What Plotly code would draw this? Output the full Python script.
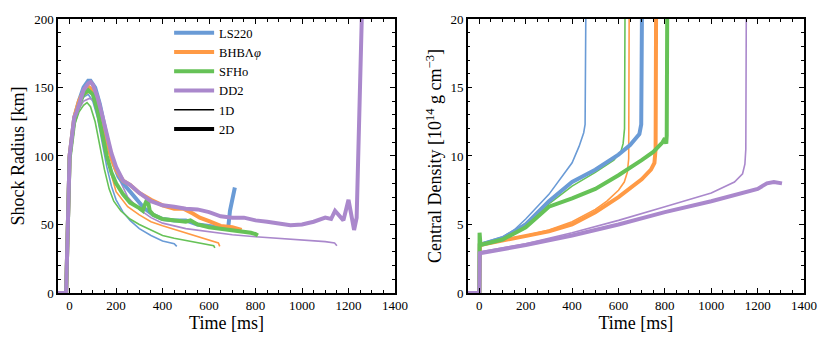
import plotly.graph_objects as go
from plotly.subplots import make_subplots

# colours per equation of state
BLUE = "#6a9bd6"
ORANGE = "#ff9a45"
GREEN = "#66c257"
PURPLE = "#aa88cc"

# ---- shock radius [km] vs time [ms] ----
ls220_1d_t = [-50, -15, 0, 10, 20, 40, 60, 80, 100, 120, 140, 160, 180, 200, 230, 260, 300, 350, 400, 430, 450, 461]
ls220_1d_r = [0, 0, 95, 112, 125, 137, 143, 145, 140, 128, 110, 92, 78, 68, 59, 53, 47, 42, 38, 36.5, 36, 34]

bhb_1d_t = [-50, -15, 0, 10, 20, 40, 60, 85, 100, 120, 140, 160, 180, 200, 250, 300, 350, 400, 450, 500, 550, 600, 640, 646]
bhb_1d_r = [0, 0, 96, 113, 126, 138, 144, 147, 144, 135, 120, 102, 86, 74, 63, 57, 52, 49, 46.5, 44, 41.5, 39, 36.5, 34]

sfho_1d_t = [-50, -15, 0, 10, 20, 40, 60, 75, 90, 110, 130, 150, 170, 190, 220, 260, 300, 350, 400, 450, 500, 550, 600, 620, 625]
sfho_1d_r = [0, 0, 95, 110, 122, 132, 137, 139, 136, 125, 108, 90, 76, 67, 60, 54, 50, 46, 42, 40, 38.5, 37, 35.5, 34.5, 33]

dd2_1d_t = [-50, -15, 0, 10, 20, 40, 60, 85, 100, 120, 140, 160, 180, 200, 250, 300, 350, 400, 500, 600, 700, 800, 900, 1000, 1100, 1140, 1150]
dd2_1d_r = [0, 0, 96, 112, 124, 134, 140, 142, 141, 135, 125, 112, 99, 88, 70, 61, 55, 51, 47, 44.5, 42.5, 41, 40, 39, 37.5, 36.5, 34.5]

ls220_2d_t = [-50, -15, 0, 20, 40, 60, 80, 90, 110, 130, 150, 170, 190, 210, 240, 280, 320, 360, 400, 450, 500, 550, 600, 650, 682, 690, 700, 711]
ls220_2d_r = [0, 0, 100, 128, 140, 150, 155, 155, 150, 138, 122, 106, 94, 85, 78, 70, 62, 57, 54, 53, 53, 50, 49, 48, 47, 60, 70, 77]

bhb_2d_t = [-50, -15, 0, 20, 40, 60, 85, 100, 120, 140, 160, 180, 200, 230, 260, 300, 350, 400, 450, 490, 530, 560, 600, 650, 700, 740]
bhb_2d_r = [0, 0, 100, 128, 140, 147, 150, 148, 140, 126, 110, 98, 90, 82, 79, 73, 68, 64, 61.5, 61.5, 58, 55, 52.5, 49, 48, 46]

sfho_2d_t = [-50, -15, 0, 20, 40, 60, 80, 100, 120, 140, 160, 180, 200, 230, 260, 300, 315, 325, 335, 345, 360, 400, 450, 500, 520, 550, 600, 650, 700, 750, 780, 800, 810]
sfho_2d_r = [0, 0, 98, 125, 137, 145, 148, 145, 133, 116, 100, 88, 80, 72, 66, 62, 60, 65, 69, 60, 57, 54, 53, 52, 53, 50, 48, 47, 46, 45, 44, 43, 42]

dd2_2d_t = [-50, -15, 0, 10, 20, 30, 40, 60, 80, 90, 100, 120, 140, 160, 180, 200, 230, 260, 300, 350, 400, 450, 500, 550, 600, 650,
            700, 750, 800, 850, 900, 950, 1000, 1050, 1100, 1125, 1142, 1160, 1178, 1200, 1212, 1224, 1235, 1245, 1257]
dd2_2d_r = [0, 0, 100, 115, 128, 132, 138, 148, 153, 154, 152, 143, 130, 115, 102, 92, 82, 79, 73, 67, 64, 63, 61.5, 61, 59, 56,
            55, 55, 53, 52, 50.5, 49.5, 50, 52, 55, 54, 60, 56, 53, 68, 58, 46, 55, 120, 200]

# ---- central density [1e14 g/cm3] vs time [ms] ----
ls220_1d_dt = [-50, 0, 2, 100, 150, 200, 300, 400, 430, 450, 456, 459]
ls220_1d_rho = [0, 0, 3.6, 4.1, 4.6, 5.4, 7.2, 9.5, 10.7, 11.7, 12.3, 20]

bhb_1d_dt = [-50, 0, 2, 100, 200, 300, 400, 500, 550, 600, 625, 638, 644, 646]
bhb_1d_rho = [0, 0, 3.6, 3.9, 4.2, 4.6, 5.2, 6.1, 6.7, 7.5, 8.1, 8.8, 9.8, 20]

sfho_1d_dt = [-50, 0, 2, 100, 200, 300, 400, 500, 580, 610, 620, 626, 628]
sfho_1d_rho = [0, 0, 3.6, 4.0, 5.1, 6.5, 7.8, 8.8, 9.7, 10.3, 10.9, 12, 20]

dd2_1d_dt = [-50, 0, 2, 200, 400, 600, 800, 1000, 1100, 1135, 1145, 1149, 1151]
dd2_1d_rho = [0, 0, 3.0, 3.6, 4.4, 5.3, 6.3, 7.3, 8.1, 8.7, 9.4, 10.5, 20]

ls220_2d_dt = [-50, 0, 2, 100, 200, 300, 400, 500, 600, 650, 690, 698, 701]
ls220_2d_rho = [0, 0, 3.5, 4.0, 5.0, 6.7, 8.1, 9.0, 10.1, 10.8, 11.6, 12.3, 20]

bhb_2d_dt = [-50, 0, 2, 200, 300, 400, 500, 600, 700, 740, 755, 760, 762]
bhb_2d_rho = [0, 0, 3.5, 4.2, 4.5, 5.0, 5.9, 7.0, 8.3, 9.0, 9.5, 10.5, 20]

sfho_2d_dt = [-50, 0, 1, 3, 5, 100, 200, 300, 400, 500, 600, 700, 750, 790, 800, 806, 808, 810]
sfho_2d_rho = [0, 0, 4.4, 3.6, 3.5, 3.9, 4.8, 6.3, 6.9, 7.6, 8.6, 9.7, 10.3, 11.0, 11.3, 10.9, 11.5, 20]

dd2_2d_dt = [-50, 0, 2, 200, 400, 600, 800, 1000, 1200, 1240, 1270, 1305]
dd2_2d_rho = [0, 0, 2.9, 3.5, 4.2, 5.0, 5.9, 6.7, 7.6, 8.0, 8.1, 8.0]

labels = ["LS220", "BHBΛ<i>φ</i>", "SFHo", "DD2"]
colors = [BLUE, ORANGE, GREEN, PURPLE]

radius_1d = [(ls220_1d_t, ls220_1d_r), (bhb_1d_t, bhb_1d_r), (sfho_1d_t, sfho_1d_r), (dd2_1d_t, dd2_1d_r)]
radius_2d = [(ls220_2d_t, ls220_2d_r), (bhb_2d_t, bhb_2d_r), (sfho_2d_t, sfho_2d_r), (dd2_2d_t, dd2_2d_r)]
dens_1d = [(ls220_1d_dt, ls220_1d_rho), (bhb_1d_dt, bhb_1d_rho), (sfho_1d_dt, sfho_1d_rho), (dd2_1d_dt, dd2_1d_rho)]
dens_2d = [(ls220_2d_dt, ls220_2d_rho), (bhb_2d_dt, bhb_2d_rho), (sfho_2d_dt, sfho_2d_rho), (dd2_2d_dt, dd2_2d_rho)]

THIN = 1.6
THICK = 4

fig = make_subplots(rows=1, cols=2)

for col, (one, two) in enumerate([(radius_1d, radius_2d), (dens_1d, dens_2d)], start=1):
    for (t, v), c in zip(one, colors):
        fig.add_trace(go.Scatter(x=t, y=v, mode="lines", line=dict(color=c, width=THIN),
                                 showlegend=False, hoverinfo="skip"), row=1, col=col)
    for (t, v), c in zip(two, colors):
        fig.add_trace(go.Scatter(x=t, y=v, mode="lines", line=dict(color=c, width=THICK),
                                 showlegend=False, hoverinfo="skip"), row=1, col=col)

# legend entries
for name, c in zip(labels, colors):
    fig.add_trace(go.Scatter(x=[None], y=[None], mode="lines", name=name,
                             line=dict(color=c, width=THICK)), row=1, col=1)
fig.add_trace(go.Scatter(x=[None], y=[None], mode="lines", name="1D", line=dict(color="black", width=THIN)), row=1, col=1)
fig.add_trace(go.Scatter(x=[None], y=[None], mode="lines", name="2D", line=dict(color="black", width=THICK)), row=1, col=1)

FONT = "Liberation Serif"
axis_common = dict(showline=True, linecolor="black", linewidth=1.5, mirror="allticks",
                   ticks="inside", ticklen=5, tickwidth=1, tickcolor="black",
                   showgrid=False, zeroline=False, automargin=False,
                   tickfont=dict(family=FONT, size=13, color="black"))

fig.update_xaxes(axis_common, range=[-50, 1400], dtick=200,
                 minor=dict(ticks="inside", ticklen=3, dtick=50, tickcolor="black"),
                 title=dict(text="Time [ms]", font=dict(family=FONT, size=18, color="black"), standoff=4))
fig.update_xaxes(domain=[0.0608, 0.4708], row=1, col=1)
fig.update_xaxes(domain=[0.5593, 0.9684], row=1, col=2)

fig.update_yaxes(axis_common)
fig.update_yaxes(range=[0, 200], dtick=50, minor=dict(ticks="inside", ticklen=3, dtick=10, tickcolor="black"),
                 domain=[0.1568, 0.9675],
                 title=dict(text="Shock Radius [km]", font=dict(family=FONT, size=18, color="black"), standoff=6),
                 row=1, col=1)
fig.update_yaxes(range=[0, 20], dtick=5, minor=dict(ticks="inside", ticklen=3, dtick=1, tickcolor="black"),
                 domain=[0.1568, 0.9675],
                 title=dict(text="Central Density [10<sup>14</sup> g cm<sup>−3</sup>]",
                            font=dict(family=FONT, size=18, color="black"), standoff=4),
                 row=1, col=2)

# page body adds an 8px offset, so the figure is 822x338
fig.update_layout(
    width=822, height=338,
    margin=dict(l=0, r=0, t=0, b=0),
    paper_bgcolor="white", plot_bgcolor="white",
    font=dict(family=FONT, color="black"),
    legend=dict(x=0.196, y=0.97, xanchor="left", yanchor="top", bgcolor="rgba(0,0,0,0)",
                font=dict(family=FONT, size=12.5, color="black"), tracegroupgap=0, itemwidth=40),
)

fig.write_html("out.html")
